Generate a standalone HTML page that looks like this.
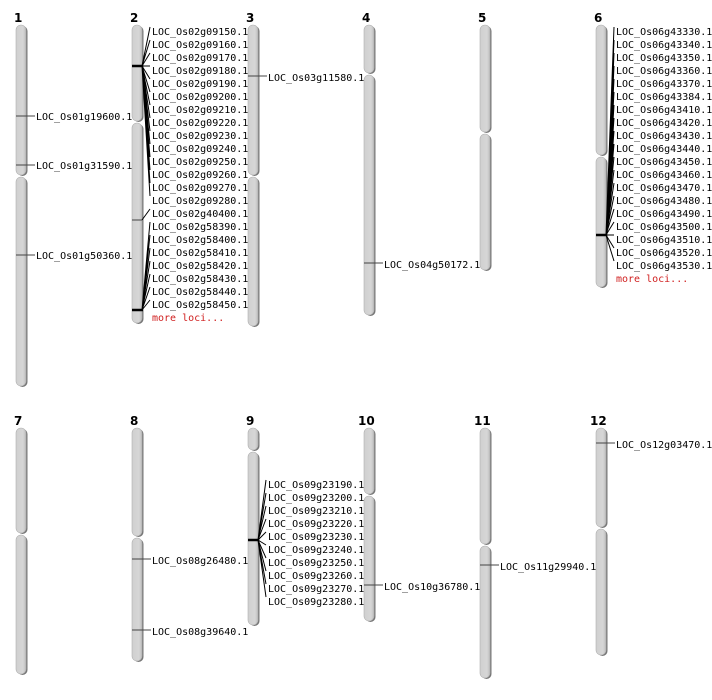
<!DOCTYPE html>
<html><head><meta charset="utf-8"><style>
html,body{margin:0;padding:0;background:#fff}
svg{display:block}
text{font-family:"DejaVu Sans Mono","Liberation Mono",monospace;font-size:10px;fill:#000}
.n{font-family:"DejaVu Sans","Liberation Sans",sans-serif;font-weight:bold;font-size:12px}
.r{fill:#d02020}
.c{fill:url(#g);stroke:#b0b0b0;stroke-width:0.6}
.s{fill:#777}
.t{stroke:#444;stroke-width:1}
.f{stroke:#000;stroke-width:1;fill:none}
</style></head><body>
<svg width="712" height="700" viewBox="0 0 712 700" xmlns="http://www.w3.org/2000/svg">
<defs><linearGradient id="g" x1="0" x2="1" y1="0" y2="0">
<stop offset="0" stop-color="#d0d0d0"/><stop offset="0.7" stop-color="#d6d6d6"/><stop offset="1" stop-color="#bdbdbd"/></linearGradient></defs>
<text class="n" x="14" y="22">1</text><text class="n" x="130" y="22">2</text><text class="n" x="246" y="22">3</text>
<text class="n" x="362" y="22">4</text><text class="n" x="478" y="22">5</text><text class="n" x="594" y="22">6</text>
<text class="n" x="14" y="425">7</text><text class="n" x="130" y="425">8</text><text class="n" x="246" y="425">9</text>
<text class="n" x="358" y="425">10</text><text class="n" x="474" y="425">11</text><text class="n" x="590" y="425">12</text>
<g class="s" transform="translate(1.5,1)">
<rect x="16" y="25" width="10" height="150" rx="5"/><rect x="16" y="177" width="10" height="209" rx="5"/>
<rect x="132" y="25" width="10" height="96" rx="5"/><rect x="132" y="123" width="10" height="200" rx="5"/>
<rect x="248" y="25" width="10" height="150" rx="5"/><rect x="248" y="177" width="10" height="149" rx="5"/>
<rect x="364" y="25" width="10" height="48" rx="5"/><rect x="364" y="75" width="10" height="240" rx="5"/>
<rect x="480" y="25" width="10" height="107" rx="5"/><rect x="480" y="134" width="10" height="136" rx="5"/>
<rect x="596" y="25" width="10" height="130" rx="5"/><rect x="596" y="157" width="10" height="130" rx="5"/>
<rect x="16" y="428" width="10" height="105" rx="5"/><rect x="16" y="535" width="10" height="139" rx="5"/>
<rect x="132" y="428" width="10" height="108" rx="5"/><rect x="132" y="538" width="10" height="123" rx="5"/>
<rect x="248" y="428" width="10" height="22" rx="5"/><rect x="248" y="452" width="10" height="173" rx="5"/>
<rect x="364" y="428" width="10" height="66" rx="5"/><rect x="364" y="496" width="10" height="125" rx="5"/>
<rect x="480" y="428" width="10" height="116" rx="5"/><rect x="480" y="546" width="10" height="132" rx="5"/>
<rect x="596" y="428" width="10" height="99" rx="5"/><rect x="596" y="529" width="10" height="126" rx="5"/>
</g>
<g class="c">
<rect x="16" y="25" width="10" height="150" rx="5"/><rect x="16" y="177" width="10" height="209" rx="5"/>
<rect x="132" y="25" width="10" height="96" rx="5"/><rect x="132" y="123" width="10" height="200" rx="5"/>
<rect x="248" y="25" width="10" height="150" rx="5"/><rect x="248" y="177" width="10" height="149" rx="5"/>
<rect x="364" y="25" width="10" height="48" rx="5"/><rect x="364" y="75" width="10" height="240" rx="5"/>
<rect x="480" y="25" width="10" height="107" rx="5"/><rect x="480" y="134" width="10" height="136" rx="5"/>
<rect x="596" y="25" width="10" height="130" rx="5"/><rect x="596" y="157" width="10" height="130" rx="5"/>
<rect x="16" y="428" width="10" height="105" rx="5"/><rect x="16" y="535" width="10" height="139" rx="5"/>
<rect x="132" y="428" width="10" height="108" rx="5"/><rect x="132" y="538" width="10" height="123" rx="5"/>
<rect x="248" y="428" width="10" height="22" rx="5"/><rect x="248" y="452" width="10" height="173" rx="5"/>
<rect x="364" y="428" width="10" height="66" rx="5"/><rect x="364" y="496" width="10" height="125" rx="5"/>
<rect x="480" y="428" width="10" height="116" rx="5"/><rect x="480" y="546" width="10" height="132" rx="5"/>
<rect x="596" y="428" width="10" height="99" rx="5"/><rect x="596" y="529" width="10" height="126" rx="5"/>
</g>
<g class="t">
<line x1="16" y1="116" x2="35" y2="116"/><line x1="16" y1="165" x2="35" y2="165"/><line x1="16" y1="255" x2="35" y2="255"/>
<line x1="248" y1="76" x2="267" y2="76"/><line x1="364" y1="263" x2="383" y2="263"/>
<line x1="132" y1="559" x2="151" y2="559"/><line x1="132" y1="630" x2="151" y2="630"/>
<line x1="364" y1="585" x2="383" y2="585"/><line x1="480" y1="565" x2="499" y2="565"/><line x1="596" y1="443" x2="615" y2="443"/>
<line x1="132" y1="220" x2="142" y2="220"/>
</g>
<g stroke="#000" stroke-width="2.5">
<line x1="132" y1="66" x2="143" y2="66"/><line x1="132" y1="310" x2="143" y2="310"/>
<line x1="596" y1="235" x2="607" y2="235"/><line x1="248" y1="540" x2="259" y2="540"/>
</g>
<g class="f">
<path d="M142 66L150 27M142 66L150 40M142 66L150 53M142 66L150 66M142 66L150 79M142 66L150 92M142 66L150 105M142 66L150 118M142 66L150 131M142 66L150 144M142 66L150 157M142 66L150 170M142 66L150 183M142 66L150 196"/>
<path d="M142 220L150 209"/>
<path d="M142 310L150 222M142 310L150 235M142 310L150 248M142 310L150 261M142 310L150 274M142 310L150 287M142 310L150 300"/>
<path d="M606 235L614 27M606 235L614 40M606 235L614 53M606 235L614 66M606 235L614 79M606 235L614 92M606 235L614 105M606 235L614 118M606 235L614 131M606 235L614 144M606 235L614 157M606 235L614 170M606 235L614 183M606 235L614 196M606 235L614 209M606 235L614 222M606 235L614 235M606 235L614 248M606 235L614 261"/>
<path d="M258 540L266 480M258 540L266 493M258 540L266 506M258 540L266 519M258 540L266 532M258 540L266 545M258 540L266 558M258 540L266 571M258 540L266 584M258 540L266 597"/>
</g>
<text x="36" y="120">LOC_Os01g19600.1</text><text x="36" y="169">LOC_Os01g31590.1</text><text x="36" y="259">LOC_Os01g50360.1</text>
<g>
<text x="152" y="35">LOC_Os02g09150.1</text><text x="152" y="48">LOC_Os02g09160.1</text><text x="152" y="61">LOC_Os02g09170.1</text>
<text x="152" y="74">LOC_Os02g09180.1</text><text x="152" y="87">LOC_Os02g09190.1</text><text x="152" y="100">LOC_Os02g09200.1</text>
<text x="152" y="113">LOC_Os02g09210.1</text><text x="152" y="126">LOC_Os02g09220.1</text><text x="152" y="139">LOC_Os02g09230.1</text>
<text x="152" y="152">LOC_Os02g09240.1</text><text x="152" y="165">LOC_Os02g09250.1</text><text x="152" y="178">LOC_Os02g09260.1</text>
<text x="152" y="191">LOC_Os02g09270.1</text><text x="152" y="204">LOC_Os02g09280.1</text><text x="152" y="217">LOC_Os02g40400.1</text>
<text x="152" y="230">LOC_Os02g58390.1</text><text x="152" y="243">LOC_Os02g58400.1</text><text x="152" y="256">LOC_Os02g58410.1</text>
<text x="152" y="269">LOC_Os02g58420.1</text><text x="152" y="282">LOC_Os02g58430.1</text><text x="152" y="295">LOC_Os02g58440.1</text>
<text x="152" y="308">LOC_Os02g58450.1</text><text class="r" x="152" y="321">more loci...</text>
</g>
<text x="268" y="81">LOC_Os03g11580.1</text>
<text x="384" y="268">LOC_Os04g50172.1</text>
<g>
<text x="616" y="35">LOC_Os06g43330.1</text><text x="616" y="48">LOC_Os06g43340.1</text><text x="616" y="61">LOC_Os06g43350.1</text>
<text x="616" y="74">LOC_Os06g43360.1</text><text x="616" y="87">LOC_Os06g43370.1</text><text x="616" y="100">LOC_Os06g43384.1</text>
<text x="616" y="113">LOC_Os06g43410.1</text><text x="616" y="126">LOC_Os06g43420.1</text><text x="616" y="139">LOC_Os06g43430.1</text>
<text x="616" y="152">LOC_Os06g43440.1</text><text x="616" y="165">LOC_Os06g43450.1</text><text x="616" y="178">LOC_Os06g43460.1</text>
<text x="616" y="191">LOC_Os06g43470.1</text><text x="616" y="204">LOC_Os06g43480.1</text><text x="616" y="217">LOC_Os06g43490.1</text>
<text x="616" y="230">LOC_Os06g43500.1</text><text x="616" y="243">LOC_Os06g43510.1</text><text x="616" y="256">LOC_Os06g43520.1</text>
<text x="616" y="269">LOC_Os06g43530.1</text><text class="r" x="616" y="282">more loci...</text>
</g>
<text x="152" y="564">LOC_Os08g26480.1</text><text x="152" y="635">LOC_Os08g39640.1</text>
<g>
<text x="268" y="488">LOC_Os09g23190.1</text><text x="268" y="501">LOC_Os09g23200.1</text><text x="268" y="514">LOC_Os09g23210.1</text>
<text x="268" y="527">LOC_Os09g23220.1</text><text x="268" y="540">LOC_Os09g23230.1</text><text x="268" y="553">LOC_Os09g23240.1</text>
<text x="268" y="566">LOC_Os09g23250.1</text><text x="268" y="579">LOC_Os09g23260.1</text><text x="268" y="592">LOC_Os09g23270.1</text>
<text x="268" y="605">LOC_Os09g23280.1</text>
</g>
<text x="384" y="590">LOC_Os10g36780.1</text>
<text x="500" y="570">LOC_Os11g29940.1</text>
<text x="616" y="448">LOC_Os12g03470.1</text>
</svg>
</body></html>
